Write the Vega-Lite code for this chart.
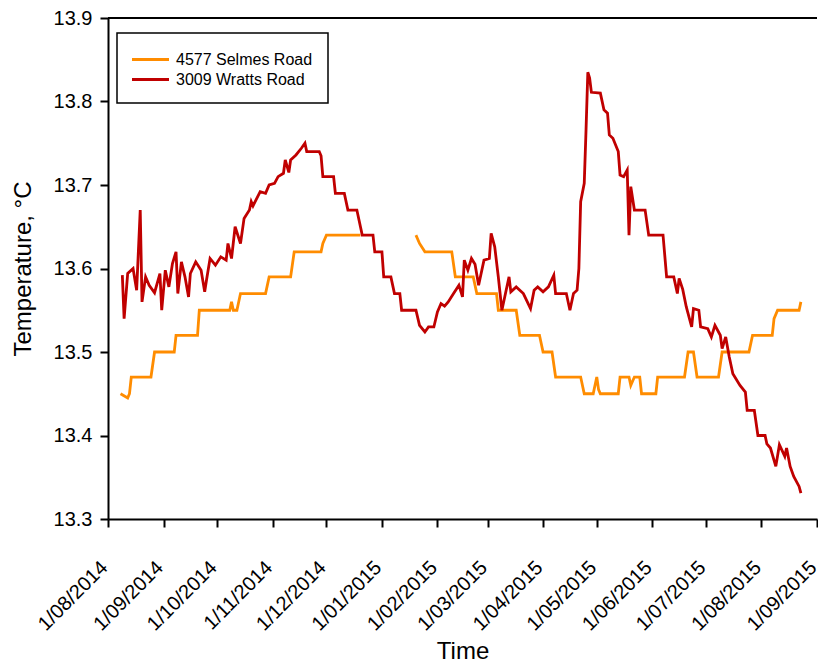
{
  "$schema": "https://vega.github.io/schema/vega-lite/v6.json",
  "description": "Ground temperature at two sites, August 2014 to August 2015.",
  "autosize": {"type": "none"},
  "padding": {"left": 108, "top": 18, "right": 1, "bottom": 147},
  "width": 709,
  "height": 501,
  "config": {
    "view": {"stroke": null},
    "font": "Liberation Sans",
    "axis": {
      "grid": false,
      "domainColor": "black",
      "domainWidth": 2,
      "tickColor": "black",
      "tickWidth": 2,
      "tickSize": 8,
      "labelColor": "black",
      "labelFontSize": 20,
      "labelPadding": 8,
      "titleColor": "black",
      "titleFontSize": 24,
      "titleFontWeight": "normal"
    },
    "legend": {
      "strokeColor": "black",
      "strokeWidth": 1.5,
      "fillColor": "white",
      "padding": 15,
      "labelFontSize": 16,
      "labelColor": "black",
      "labelOffset": 14,
      "rowPadding": -1
    }
  },
  "layer": [
    {
      "data": {
        "values": [
          {"date": "2014-08-08", "site": "4577 Selmes Road", "temp": 13.45},
          {"date": "2014-08-12", "site": "4577 Selmes Road", "temp": 13.445},
          {"date": "2014-08-13", "site": "4577 Selmes Road", "temp": 13.45},
          {"date": "2014-08-14", "site": "4577 Selmes Road", "temp": 13.47},
          {"date": "2014-08-25", "site": "4577 Selmes Road", "temp": 13.47},
          {"date": "2014-08-27", "site": "4577 Selmes Road", "temp": 13.50},
          {"date": "2014-09-07", "site": "4577 Selmes Road", "temp": 13.50},
          {"date": "2014-09-08", "site": "4577 Selmes Road", "temp": 13.52},
          {"date": "2014-09-20", "site": "4577 Selmes Road", "temp": 13.52},
          {"date": "2014-09-21", "site": "4577 Selmes Road", "temp": 13.55},
          {"date": "2014-10-08", "site": "4577 Selmes Road", "temp": 13.55},
          {"date": "2014-10-09", "site": "4577 Selmes Road", "temp": 13.56},
          {"date": "2014-10-10", "site": "4577 Selmes Road", "temp": 13.55},
          {"date": "2014-10-12", "site": "4577 Selmes Road", "temp": 13.55},
          {"date": "2014-10-14", "site": "4577 Selmes Road", "temp": 13.57},
          {"date": "2014-10-28", "site": "4577 Selmes Road", "temp": 13.57},
          {"date": "2014-10-30", "site": "4577 Selmes Road", "temp": 13.59},
          {"date": "2014-11-11", "site": "4577 Selmes Road", "temp": 13.59},
          {"date": "2014-11-13", "site": "4577 Selmes Road", "temp": 13.62},
          {"date": "2014-11-28", "site": "4577 Selmes Road", "temp": 13.62},
          {"date": "2014-11-29", "site": "4577 Selmes Road", "temp": 13.63},
          {"date": "2014-12-01", "site": "4577 Selmes Road", "temp": 13.64},
          {"date": "2014-12-20", "site": "4577 Selmes Road", "temp": 13.64},
          {"date": "2014-12-21", "site": "4577 Selmes Road", "temp": null},
          {"date": "2015-01-20", "site": "4577 Selmes Road", "temp": 13.64},
          {"date": "2015-01-22", "site": "4577 Selmes Road", "temp": 13.63},
          {"date": "2015-01-25", "site": "4577 Selmes Road", "temp": 13.62},
          {"date": "2015-02-09", "site": "4577 Selmes Road", "temp": 13.62},
          {"date": "2015-02-11", "site": "4577 Selmes Road", "temp": 13.59},
          {"date": "2015-02-21", "site": "4577 Selmes Road", "temp": 13.59},
          {"date": "2015-02-23", "site": "4577 Selmes Road", "temp": 13.57},
          {"date": "2015-03-06", "site": "4577 Selmes Road", "temp": 13.57},
          {"date": "2015-03-07", "site": "4577 Selmes Road", "temp": 13.55},
          {"date": "2015-03-17", "site": "4577 Selmes Road", "temp": 13.55},
          {"date": "2015-03-19", "site": "4577 Selmes Road", "temp": 13.52},
          {"date": "2015-03-30", "site": "4577 Selmes Road", "temp": 13.52},
          {"date": "2015-04-01", "site": "4577 Selmes Road", "temp": 13.50},
          {"date": "2015-04-06", "site": "4577 Selmes Road", "temp": 13.50},
          {"date": "2015-04-08", "site": "4577 Selmes Road", "temp": 13.47},
          {"date": "2015-04-22", "site": "4577 Selmes Road", "temp": 13.47},
          {"date": "2015-04-24", "site": "4577 Selmes Road", "temp": 13.45},
          {"date": "2015-04-29", "site": "4577 Selmes Road", "temp": 13.45},
          {"date": "2015-05-01", "site": "4577 Selmes Road", "temp": 13.47},
          {"date": "2015-05-02", "site": "4577 Selmes Road", "temp": 13.455},
          {"date": "2015-05-03", "site": "4577 Selmes Road", "temp": 13.45},
          {"date": "2015-05-13", "site": "4577 Selmes Road", "temp": 13.45},
          {"date": "2015-05-14", "site": "4577 Selmes Road", "temp": 13.47},
          {"date": "2015-05-19", "site": "4577 Selmes Road", "temp": 13.47},
          {"date": "2015-05-20", "site": "4577 Selmes Road", "temp": 13.46},
          {"date": "2015-05-22", "site": "4577 Selmes Road", "temp": 13.47},
          {"date": "2015-05-25", "site": "4577 Selmes Road", "temp": 13.47},
          {"date": "2015-05-26", "site": "4577 Selmes Road", "temp": 13.45},
          {"date": "2015-06-03", "site": "4577 Selmes Road", "temp": 13.45},
          {"date": "2015-06-04", "site": "4577 Selmes Road", "temp": 13.47},
          {"date": "2015-06-19", "site": "4577 Selmes Road", "temp": 13.47},
          {"date": "2015-06-21", "site": "4577 Selmes Road", "temp": 13.50},
          {"date": "2015-06-24", "site": "4577 Selmes Road", "temp": 13.50},
          {"date": "2015-06-26", "site": "4577 Selmes Road", "temp": 13.47},
          {"date": "2015-07-08", "site": "4577 Selmes Road", "temp": 13.47},
          {"date": "2015-07-10", "site": "4577 Selmes Road", "temp": 13.50},
          {"date": "2015-07-25", "site": "4577 Selmes Road", "temp": 13.50},
          {"date": "2015-07-27", "site": "4577 Selmes Road", "temp": 13.52},
          {"date": "2015-08-07", "site": "4577 Selmes Road", "temp": 13.52},
          {"date": "2015-08-08", "site": "4577 Selmes Road", "temp": 13.54},
          {"date": "2015-08-10", "site": "4577 Selmes Road", "temp": 13.55},
          {"date": "2015-08-22", "site": "4577 Selmes Road", "temp": 13.55},
          {"date": "2015-08-23", "site": "4577 Selmes Road", "temp": 13.56},

          {"date": "2014-08-09", "site": "3009 Wratts Road", "temp": 13.592},
          {"date": "2014-08-10", "site": "3009 Wratts Road", "temp": 13.54},
          {"date": "2014-08-12", "site": "3009 Wratts Road", "temp": 13.594},
          {"date": "2014-08-15", "site": "3009 Wratts Road", "temp": 13.60},
          {"date": "2014-08-17", "site": "3009 Wratts Road", "temp": 13.574},
          {"date": "2014-08-19", "site": "3009 Wratts Road", "temp": 13.67},
          {"date": "2014-08-20", "site": "3009 Wratts Road", "temp": 13.56},
          {"date": "2014-08-22", "site": "3009 Wratts Road", "temp": 13.59},
          {"date": "2014-08-24", "site": "3009 Wratts Road", "temp": 13.58},
          {"date": "2014-08-27", "site": "3009 Wratts Road", "temp": 13.571},
          {"date": "2014-08-30", "site": "3009 Wratts Road", "temp": 13.594},
          {"date": "2014-08-31", "site": "3009 Wratts Road", "temp": 13.55},
          {"date": "2014-09-02", "site": "3009 Wratts Road", "temp": 13.598},
          {"date": "2014-09-04", "site": "3009 Wratts Road", "temp": 13.578},
          {"date": "2014-09-06", "site": "3009 Wratts Road", "temp": 13.606},
          {"date": "2014-09-08", "site": "3009 Wratts Road", "temp": 13.62},
          {"date": "2014-09-09", "site": "3009 Wratts Road", "temp": 13.57},
          {"date": "2014-09-11", "site": "3009 Wratts Road", "temp": 13.608},
          {"date": "2014-09-13", "site": "3009 Wratts Road", "temp": 13.59},
          {"date": "2014-09-15", "site": "3009 Wratts Road", "temp": 13.566},
          {"date": "2014-09-16", "site": "3009 Wratts Road", "temp": 13.594},
          {"date": "2014-09-19", "site": "3009 Wratts Road", "temp": 13.608},
          {"date": "2014-09-22", "site": "3009 Wratts Road", "temp": 13.598},
          {"date": "2014-09-24", "site": "3009 Wratts Road", "temp": 13.572},
          {"date": "2014-09-25", "site": "3009 Wratts Road", "temp": 13.586},
          {"date": "2014-09-27", "site": "3009 Wratts Road", "temp": 13.612},
          {"date": "2014-09-30", "site": "3009 Wratts Road", "temp": 13.604},
          {"date": "2014-10-03", "site": "3009 Wratts Road", "temp": 13.614},
          {"date": "2014-10-06", "site": "3009 Wratts Road", "temp": 13.61},
          {"date": "2014-10-07", "site": "3009 Wratts Road", "temp": 13.63},
          {"date": "2014-10-09", "site": "3009 Wratts Road", "temp": 13.612},
          {"date": "2014-10-11", "site": "3009 Wratts Road", "temp": 13.65},
          {"date": "2014-10-14", "site": "3009 Wratts Road", "temp": 13.63},
          {"date": "2014-10-16", "site": "3009 Wratts Road", "temp": 13.66},
          {"date": "2014-10-19", "site": "3009 Wratts Road", "temp": 13.67},
          {"date": "2014-10-20", "site": "3009 Wratts Road", "temp": 13.68},
          {"date": "2014-10-21", "site": "3009 Wratts Road", "temp": 13.675},
          {"date": "2014-10-25", "site": "3009 Wratts Road", "temp": 13.692},
          {"date": "2014-10-28", "site": "3009 Wratts Road", "temp": 13.69},
          {"date": "2014-10-30", "site": "3009 Wratts Road", "temp": 13.70},
          {"date": "2014-11-02", "site": "3009 Wratts Road", "temp": 13.702},
          {"date": "2014-11-04", "site": "3009 Wratts Road", "temp": 13.71},
          {"date": "2014-11-07", "site": "3009 Wratts Road", "temp": 13.714},
          {"date": "2014-11-08", "site": "3009 Wratts Road", "temp": 13.73},
          {"date": "2014-11-10", "site": "3009 Wratts Road", "temp": 13.715},
          {"date": "2014-11-11", "site": "3009 Wratts Road", "temp": 13.73},
          {"date": "2014-11-14", "site": "3009 Wratts Road", "temp": 13.736},
          {"date": "2014-11-17", "site": "3009 Wratts Road", "temp": 13.744},
          {"date": "2014-11-19", "site": "3009 Wratts Road", "temp": 13.75},
          {"date": "2014-11-20", "site": "3009 Wratts Road", "temp": 13.74},
          {"date": "2014-11-27", "site": "3009 Wratts Road", "temp": 13.74},
          {"date": "2014-11-28", "site": "3009 Wratts Road", "temp": 13.735},
          {"date": "2014-11-29", "site": "3009 Wratts Road", "temp": 13.71},
          {"date": "2014-12-05", "site": "3009 Wratts Road", "temp": 13.71},
          {"date": "2014-12-06", "site": "3009 Wratts Road", "temp": 13.69},
          {"date": "2014-12-11", "site": "3009 Wratts Road", "temp": 13.69},
          {"date": "2014-12-13", "site": "3009 Wratts Road", "temp": 13.67},
          {"date": "2014-12-18", "site": "3009 Wratts Road", "temp": 13.67},
          {"date": "2014-12-20", "site": "3009 Wratts Road", "temp": 13.65},
          {"date": "2014-12-21", "site": "3009 Wratts Road", "temp": 13.64},
          {"date": "2014-12-27", "site": "3009 Wratts Road", "temp": 13.64},
          {"date": "2014-12-28", "site": "3009 Wratts Road", "temp": 13.62},
          {"date": "2015-01-01", "site": "3009 Wratts Road", "temp": 13.62},
          {"date": "2015-01-02", "site": "3009 Wratts Road", "temp": 13.59},
          {"date": "2015-01-06", "site": "3009 Wratts Road", "temp": 13.59},
          {"date": "2015-01-08", "site": "3009 Wratts Road", "temp": 13.57},
          {"date": "2015-01-11", "site": "3009 Wratts Road", "temp": 13.57},
          {"date": "2015-01-12", "site": "3009 Wratts Road", "temp": 13.55},
          {"date": "2015-01-20", "site": "3009 Wratts Road", "temp": 13.55},
          {"date": "2015-01-22", "site": "3009 Wratts Road", "temp": 13.532},
          {"date": "2015-01-25", "site": "3009 Wratts Road", "temp": 13.524},
          {"date": "2015-01-27", "site": "3009 Wratts Road", "temp": 13.53},
          {"date": "2015-01-30", "site": "3009 Wratts Road", "temp": 13.53},
          {"date": "2015-02-01", "site": "3009 Wratts Road", "temp": 13.548},
          {"date": "2015-02-03", "site": "3009 Wratts Road", "temp": 13.558},
          {"date": "2015-02-05", "site": "3009 Wratts Road", "temp": 13.555},
          {"date": "2015-02-07", "site": "3009 Wratts Road", "temp": 13.56},
          {"date": "2015-02-10", "site": "3009 Wratts Road", "temp": 13.57},
          {"date": "2015-02-13", "site": "3009 Wratts Road", "temp": 13.58},
          {"date": "2015-02-15", "site": "3009 Wratts Road", "temp": 13.566},
          {"date": "2015-02-16", "site": "3009 Wratts Road", "temp": 13.61},
          {"date": "2015-02-18", "site": "3009 Wratts Road", "temp": 13.598},
          {"date": "2015-02-20", "site": "3009 Wratts Road", "temp": 13.612},
          {"date": "2015-02-22", "site": "3009 Wratts Road", "temp": 13.605},
          {"date": "2015-02-24", "site": "3009 Wratts Road", "temp": 13.58},
          {"date": "2015-02-27", "site": "3009 Wratts Road", "temp": 13.61},
          {"date": "2015-03-02", "site": "3009 Wratts Road", "temp": 13.612},
          {"date": "2015-03-03", "site": "3009 Wratts Road", "temp": 13.642},
          {"date": "2015-03-05", "site": "3009 Wratts Road", "temp": 13.626},
          {"date": "2015-03-07", "site": "3009 Wratts Road", "temp": 13.59},
          {"date": "2015-03-09", "site": "3009 Wratts Road", "temp": 13.55},
          {"date": "2015-03-11", "site": "3009 Wratts Road", "temp": 13.57},
          {"date": "2015-03-13", "site": "3009 Wratts Road", "temp": 13.59},
          {"date": "2015-03-14", "site": "3009 Wratts Road", "temp": 13.572},
          {"date": "2015-03-17", "site": "3009 Wratts Road", "temp": 13.578},
          {"date": "2015-03-21", "site": "3009 Wratts Road", "temp": 13.57},
          {"date": "2015-03-25", "site": "3009 Wratts Road", "temp": 13.552},
          {"date": "2015-03-27", "site": "3009 Wratts Road", "temp": 13.574},
          {"date": "2015-03-29", "site": "3009 Wratts Road", "temp": 13.578},
          {"date": "2015-04-01", "site": "3009 Wratts Road", "temp": 13.572},
          {"date": "2015-04-04", "site": "3009 Wratts Road", "temp": 13.578},
          {"date": "2015-04-07", "site": "3009 Wratts Road", "temp": 13.592},
          {"date": "2015-04-08", "site": "3009 Wratts Road", "temp": 13.57},
          {"date": "2015-04-14", "site": "3009 Wratts Road", "temp": 13.57},
          {"date": "2015-04-16", "site": "3009 Wratts Road", "temp": 13.55},
          {"date": "2015-04-18", "site": "3009 Wratts Road", "temp": 13.57},
          {"date": "2015-04-20", "site": "3009 Wratts Road", "temp": 13.574},
          {"date": "2015-04-21", "site": "3009 Wratts Road", "temp": 13.60},
          {"date": "2015-04-22", "site": "3009 Wratts Road", "temp": 13.68},
          {"date": "2015-04-24", "site": "3009 Wratts Road", "temp": 13.702},
          {"date": "2015-04-25", "site": "3009 Wratts Road", "temp": 13.766},
          {"date": "2015-04-26", "site": "3009 Wratts Road", "temp": 13.835},
          {"date": "2015-04-27", "site": "3009 Wratts Road", "temp": 13.828},
          {"date": "2015-04-28", "site": "3009 Wratts Road", "temp": 13.811},
          {"date": "2015-05-03", "site": "3009 Wratts Road", "temp": 13.81},
          {"date": "2015-05-05", "site": "3009 Wratts Road", "temp": 13.79},
          {"date": "2015-05-07", "site": "3009 Wratts Road", "temp": 13.786},
          {"date": "2015-05-08", "site": "3009 Wratts Road", "temp": 13.76},
          {"date": "2015-05-10", "site": "3009 Wratts Road", "temp": 13.756},
          {"date": "2015-05-13", "site": "3009 Wratts Road", "temp": 13.74},
          {"date": "2015-05-14", "site": "3009 Wratts Road", "temp": 13.712},
          {"date": "2015-05-16", "site": "3009 Wratts Road", "temp": 13.71},
          {"date": "2015-05-18", "site": "3009 Wratts Road", "temp": 13.718},
          {"date": "2015-05-19", "site": "3009 Wratts Road", "temp": 13.64},
          {"date": "2015-05-20", "site": "3009 Wratts Road", "temp": 13.698},
          {"date": "2015-05-22", "site": "3009 Wratts Road", "temp": 13.67},
          {"date": "2015-05-28", "site": "3009 Wratts Road", "temp": 13.67},
          {"date": "2015-05-30", "site": "3009 Wratts Road", "temp": 13.64},
          {"date": "2015-06-07", "site": "3009 Wratts Road", "temp": 13.64},
          {"date": "2015-06-09", "site": "3009 Wratts Road", "temp": 13.59},
          {"date": "2015-06-13", "site": "3009 Wratts Road", "temp": 13.59},
          {"date": "2015-06-15", "site": "3009 Wratts Road", "temp": 13.57},
          {"date": "2015-06-16", "site": "3009 Wratts Road", "temp": 13.588},
          {"date": "2015-06-18", "site": "3009 Wratts Road", "temp": 13.575},
          {"date": "2015-06-20", "site": "3009 Wratts Road", "temp": 13.554},
          {"date": "2015-06-23", "site": "3009 Wratts Road", "temp": 13.53},
          {"date": "2015-06-24", "site": "3009 Wratts Road", "temp": 13.552},
          {"date": "2015-06-27", "site": "3009 Wratts Road", "temp": 13.55},
          {"date": "2015-06-28", "site": "3009 Wratts Road", "temp": 13.53},
          {"date": "2015-07-02", "site": "3009 Wratts Road", "temp": 13.528},
          {"date": "2015-07-04", "site": "3009 Wratts Road", "temp": 13.518},
          {"date": "2015-07-06", "site": "3009 Wratts Road", "temp": 13.532},
          {"date": "2015-07-09", "site": "3009 Wratts Road", "temp": 13.52},
          {"date": "2015-07-10", "site": "3009 Wratts Road", "temp": 13.504},
          {"date": "2015-07-12", "site": "3009 Wratts Road", "temp": 13.518},
          {"date": "2015-07-14", "site": "3009 Wratts Road", "temp": 13.494},
          {"date": "2015-07-16", "site": "3009 Wratts Road", "temp": 13.474},
          {"date": "2015-07-20", "site": "3009 Wratts Road", "temp": 13.46},
          {"date": "2015-07-23", "site": "3009 Wratts Road", "temp": 13.452},
          {"date": "2015-07-24", "site": "3009 Wratts Road", "temp": 13.43},
          {"date": "2015-07-28", "site": "3009 Wratts Road", "temp": 13.43},
          {"date": "2015-07-30", "site": "3009 Wratts Road", "temp": 13.40},
          {"date": "2015-08-03", "site": "3009 Wratts Road", "temp": 13.40},
          {"date": "2015-08-04", "site": "3009 Wratts Road", "temp": 13.39},
          {"date": "2015-08-06", "site": "3009 Wratts Road", "temp": 13.385},
          {"date": "2015-08-09", "site": "3009 Wratts Road", "temp": 13.363},
          {"date": "2015-08-11", "site": "3009 Wratts Road", "temp": 13.389},
          {"date": "2015-08-14", "site": "3009 Wratts Road", "temp": 13.375},
          {"date": "2015-08-15", "site": "3009 Wratts Road", "temp": 13.385},
          {"date": "2015-08-17", "site": "3009 Wratts Road", "temp": 13.363},
          {"date": "2015-08-19", "site": "3009 Wratts Road", "temp": 13.351},
          {"date": "2015-08-22", "site": "3009 Wratts Road", "temp": 13.339},
          {"date": "2015-08-23", "site": "3009 Wratts Road", "temp": 13.331}
        ]
      },
      "mark": {"type": "line", "strokeWidth": 2.8},
      "encoding": {
        "x": {
          "field": "date",
          "type": "temporal",
          "scale": {
            "domain": [
              {"year": 2014, "month": 8, "date": 1},
              {"year": 2015, "month": 9, "date": 1}
            ],
            "nice": false
          },
          "axis": {
            "title": "Time",
            "tickCount": {"interval": "month", "step": 1},
            "format": "%-d/%m/%Y",
            "labelAngle": -45,
            "labelOffset": -11,
            "labelPadding": 30,
            "labelOverlap": false,
            "labelFlush": false,
            "titlePadding": 5
          }
        },
        "y": {
          "field": "temp",
          "type": "quantitative",
          "scale": {"domain": [13.3, 13.9], "nice": false, "zero": false},
          "axis": {
            "title": "Temperature, °C",
            "values": [13.3, 13.4, 13.5, 13.6, 13.7, 13.8, 13.9],
            "format": ".1f",
            "titlePadding": 18
          }
        },
        "color": {
          "field": "site",
          "type": "nominal",
          "scale": {
            "domain": ["4577 Selmes Road", "3009 Wratts Road"],
            "range": ["#FF8C00", "#C00000"]
          },
          "legend": {
            "title": null,
            "orient": "none",
            "legendX": 9,
            "legendY": 15,
            "symbolType": "M-1.85,0H1.85",
            "symbolSize": 400,
            "symbolOffset": 7,
            "symbolStrokeWidth": 2.8
          }
        }
      }
    },
    {
      "data": {"values": [{}]},
      "mark": {"type": "rule", "color": "black", "strokeWidth": 2},
      "encoding": {"y": {"datum": 13.9}}
    }
  ]
}
